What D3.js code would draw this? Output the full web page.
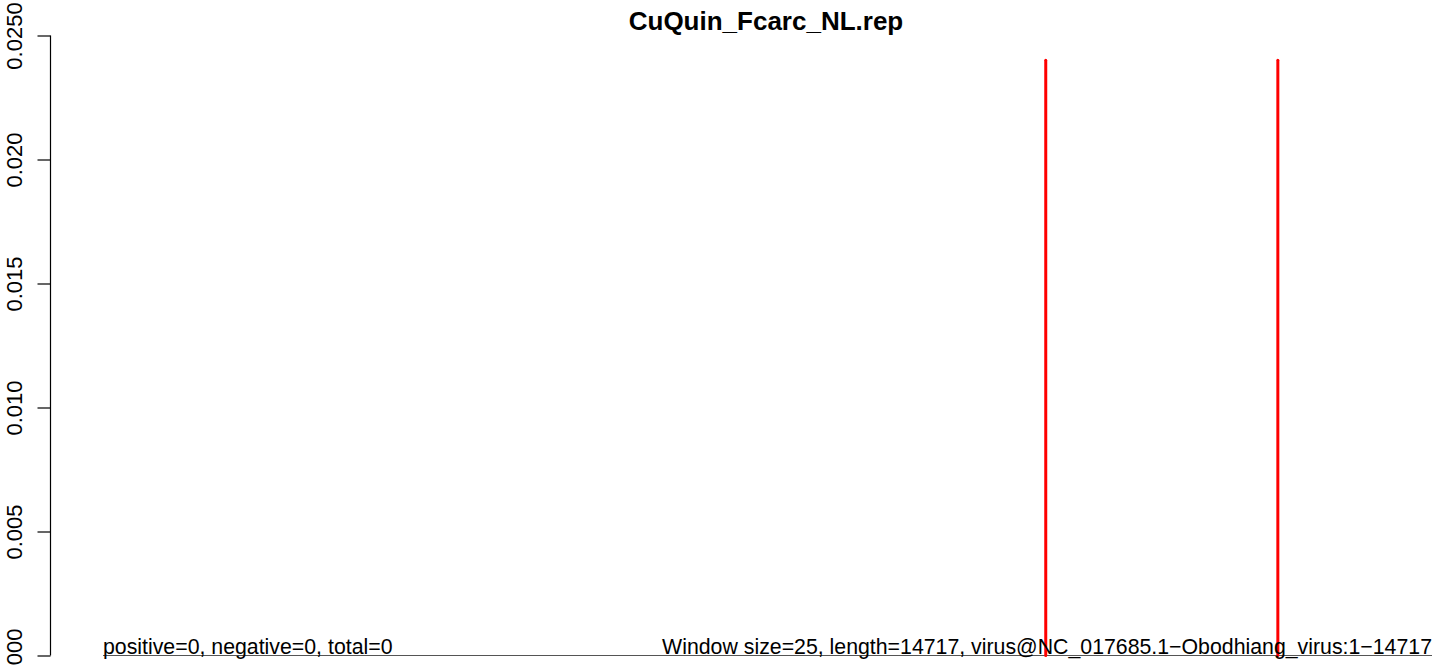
<!DOCTYPE html>
<html><head><meta charset="utf-8">
<script src="https://cdn.jsdelivr.net/npm/d3@7"></script>
<style>html,body{margin:0;padding:0;background:#fff;} svg{display:block;font-family:"Liberation Sans",Arial,sans-serif;}</style>
</head><body>
<script>
const title = "CuQuin_Fcarc_NL.rep";
const yTicks = [0, 0.005, 0.010, 0.015, 0.020, 0.025];
const yTickLabels = ["0.000", "0.005", "0.010", "0.015", "0.020", "0.0250"];
const genomePos = [1, 14717];
const coverage = [0, 0];
const markerPos = [10440, 13010];
const markerHeight = [0.024, 0.024];
const leftNote = "positive=0, negative=0, total=0";
const rightNote = "Window size=25, length=14717, virus@NC_017685.1\u2212Obodhiang_virus:1\u221214717";

const W = 1444, H = 667;
const svg = d3.select("body").append("svg").attr("width", W).attr("height", H);
const x = d3.scaleLinear().domain([1, 14717]).range([103, 1432]);
const y = d3.scaleLinear().domain([0, 0.025]).range([655.5, 35.5]);

// y axis
const yAxis = d3.axisLeft(y).tickValues(yTicks).tickSize(13).tickPadding(0).tickFormat((d, i) => yTickLabels[i]);
const gA = svg.append("g").attr("transform", "translate(50.5,0)").call(yAxis);
gA.select(".domain").attr("d", `M0,${y(0)}V${y(0.025)}`).attr("stroke", "#000").attr("stroke-width", 1.2);
gA.selectAll(".tick line").attr("stroke", "#000").attr("stroke-width", 1.2);
gA.selectAll(".tick text")
  .attr("x", null).attr("dy", null)
  .attr("transform", "translate(-28.5,0) rotate(-90)")
  .attr("text-anchor", "middle").attr("font-size", 22).attr("fill", "#000")
  .attr("font-family", "Liberation Sans, Arial, sans-serif");

// zero line
const pts = genomePos.map((p, i) => [p, coverage[i]]);
svg.append("path").datum(pts)
  .attr("d", d3.line().x(d => x(d[0])).y(d => y(d[1])))
  .attr("stroke", "#555").attr("stroke-width", 1.2).attr("fill", "none");

// markers
svg.selectAll("line.mark").data(markerPos).join("line").attr("class", "mark")
  .attr("x1", d => x(d)).attr("x2", d => x(d))
  .attr("y1", y(0)).attr("y2", (d, i) => y(markerHeight[i]))
  .attr("stroke", "#ff0000").attr("stroke-width", 3).attr("stroke-linecap", "round");

// notes
svg.append("text").attr("x", x(genomePos[0])).attr("y", 653.5)
  .attr("font-size", 21.3).attr("fill", "#000").text(leftNote);
svg.append("text").attr("x", x(genomePos[1])).attr("y", 653.5).attr("text-anchor", "end")
  .attr("font-size", 21.3).attr("fill", "#000").text(rightNote);

// title
svg.append("text").attr("x", 766).attr("y", 30).attr("text-anchor", "middle")
  .attr("font-size", 26).attr("font-weight", "bold").attr("fill", "#000").text(title);
</script>
</body></html>
